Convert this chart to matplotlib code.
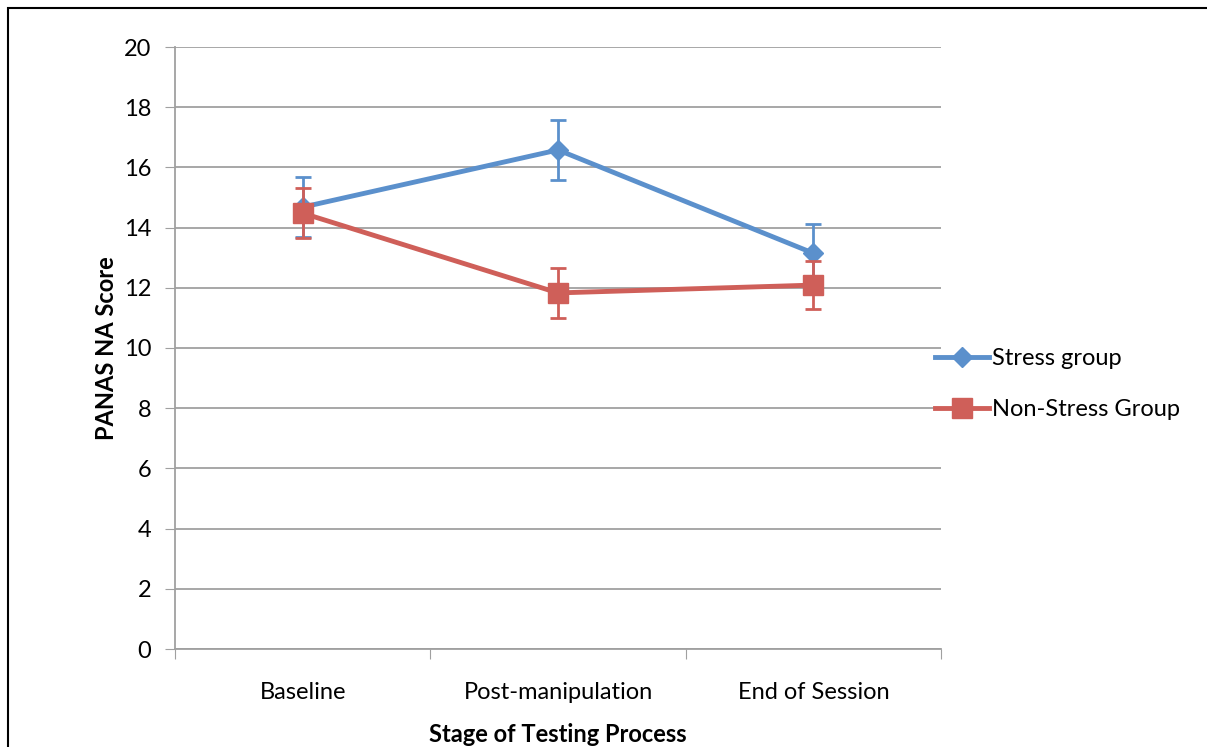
import matplotlib.pyplot as plt
from matplotlib.lines import Line2D
import numpy as np

plt.rcParams['font.family'] = ['Lato', 'DejaVu Sans']

stages = ['Baseline', 'Post-manipulation', 'End of Session']
stress = [14.68, 16.58, 13.15]
stress_err = [1.0, 1.0, 0.97]
nonstress = [14.48, 11.83, 12.09]
nonstress_err = [0.83, 0.83, 0.8]

blue = '#5B90CC'
red = '#CF5F59'

fig = plt.figure(figsize=(12.07, 7.47), dpi=100)
ax = fig.add_axes([175 / 1207, 1 - 649 / 747, (941 - 175) / 1207, (649 - 47) / 747])

x = np.arange(len(stages)) + 0.5
ax.errorbar(x, stress, yerr=stress_err, color=blue, lw=3.5, marker='D', ms=10,
            capsize=6, capthick=2, elinewidth=2, zorder=3)
ax.errorbar(x, nonstress, yerr=nonstress_err, color=red, lw=3.5, marker='s', ms=14,
            capsize=6, capthick=2, elinewidth=2, zorder=4)

ax.set_xlim(0, 3)
ax.set_ylim(0, 20)
ax.set_yticks(range(0, 21, 2))
ax.set_xticks([0, 1, 2, 3])
ax.set_xticklabels([])
ax.set_xticks(x, minor=True)
ax.set_xticklabels(stages, minor=True, fontsize=17)
ax.tick_params(axis='x', which='minor', length=0, pad=24)
ax.tick_params(axis='x', which='major', length=7, color='#a0a0a0', direction='out')
ax.tick_params(axis='y', length=7, color='#a0a0a0', labelsize=17, pad=10)
ax.grid(axis='y', color='#a0a0a0', lw=1.3)
for s in ['top', 'right']:
    ax.spines[s].set_visible(False)
for s in ['left', 'bottom']:
    ax.spines[s].set_color('#a0a0a0')
    ax.spines[s].set_linewidth(1.3)

ax.set_ylabel('PANAS NA Score', fontsize=17, fontweight='bold', labelpad=4)
ax.set_xlabel('Stage of Testing Process', fontsize=17, fontweight='bold', labelpad=14)

handles = [Line2D([], [], color=blue, lw=3.5, marker='D', ms=10),
           Line2D([], [], color=red, lw=3.5, marker='s', ms=14)]
labels = ['Stress group', 'Non-Stress Group']
ax.legend(handles, labels, loc='center left', bbox_to_anchor=(0.992, 0.44),
          frameon=False, fontsize=17, handlelength=2.3, handletextpad=0.12,
          labelspacing=1.25, borderpad=0, borderaxespad=0)

# outer frame
fig.patches.append(plt.Rectangle((8 / 1207, -0.1), 1.2, 1 - 8 / 747 + 0.1,
                                 transform=fig.transFigure, fill=False,
                                 edgecolor='black', lw=1.5))

fig.savefig('out.png', dpi=100)
